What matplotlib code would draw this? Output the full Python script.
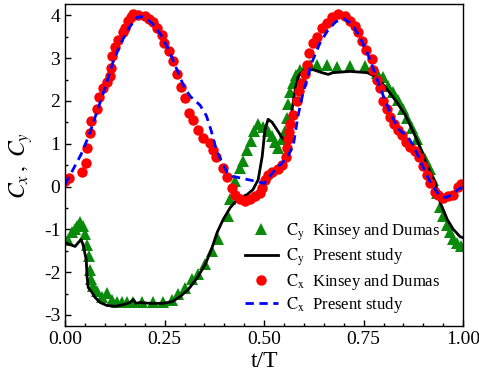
import numpy as np
import matplotlib
matplotlib.use("Agg")
import matplotlib.pyplot as plt
from matplotlib.ticker import MultipleLocator

plt.rcParams['font.family'] = 'Liberation Serif'
plt.rcParams['mathtext.fontset'] = 'stix'
plt.rcParams['axes.unicode_minus'] = False

# C_y, Kinsey and Dumas (experiment)
t_cy_exp = [0.0, 0.008, 0.018, 0.025, 0.03, 0.038, 0.045, 0.05, 0.055, 0.06,
            0.063, 0.065, 0.07, 0.08, 0.093, 0.105, 0.118, 0.13, 0.143, 0.156,
            0.171, 0.193, 0.221, 0.246, 0.269, 0.284, 0.302, 0.319, 0.334, 0.352,
            0.369, 0.384, 0.41, 0.415, 0.427, 0.44, 0.447, 0.457, 0.467, 0.475,
            0.485, 0.497, 0.51, 0.52, 0.528, 0.535, 0.545, 0.553, 0.557, 0.56,
            0.565, 0.572, 0.58, 0.59, 0.603, 0.616, 0.633, 0.658, 0.683, 0.716,
            0.754, 0.784, 0.799, 0.812, 0.824, 0.837, 0.849, 0.859, 0.872, 0.884,
            0.892, 0.905, 0.917, 0.925, 0.935, 0.942, 0.95, 0.96, 0.967, 0.975,
            0.985, 0.995]
cy_exp = [-1.24, -1.24, -1.07, -1.0, -0.93, -0.82, -0.93, -1.12, -1.36, -1.63,
          -1.94, -2.17, -2.33, -2.45, -2.57, -2.48, -2.64, -2.71, -2.69, -2.69,
          -2.71, -2.71, -2.69, -2.69, -2.64, -2.52, -2.36, -2.17, -2.05, -1.8,
          -1.5, -1.22, -0.7, -0.3, 0.12, 0.44, 0.6, 0.85, 1.07, 1.3,
          1.45, 1.4, 1.29, 1.17, 1.03, 0.91, 1.1, 1.29, 1.6, 1.92,
          2.2, 2.42, 2.6, 2.73, 2.78, 2.85, 2.85, 2.85, 2.8, 2.82,
          2.82, 2.66, 2.55, 2.34, 2.2, 2.03, 1.8, 1.6, 1.36, 1.1,
          0.86, 0.65, 0.42, 0.16, -0.14, -0.47, -0.7, -0.9, -1.07, -1.22,
          -1.31, -1.38]

# C_y, present study
t_cy_num = [0.0, 0.013, 0.025, 0.033, 0.04, 0.045, 0.053, 0.055, 0.058, 0.068,
            0.075, 0.088, 0.105, 0.126, 0.146, 0.163, 0.171, 0.178, 0.188, 0.214,
            0.246, 0.269, 0.289, 0.309, 0.332, 0.352, 0.369, 0.382, 0.397, 0.415,
            0.435, 0.457, 0.472, 0.485, 0.495, 0.502, 0.51, 0.52, 0.532, 0.545,
            0.557, 0.565, 0.57, 0.578, 0.585, 0.6, 0.623, 0.645, 0.661, 0.673,
            0.716, 0.759, 0.784, 0.809, 0.834, 0.854, 0.874, 0.892, 0.909, 0.93,
            0.942, 0.96, 0.975, 0.992, 1.0]
cy_num = [-1.31, -1.36, -1.4, -1.31, -1.24, -1.36, -1.71, -2.1, -2.36, -2.48,
          -2.59, -2.71, -2.78, -2.8, -2.76, -2.71, -2.64, -2.73, -2.71, -2.73,
          -2.73, -2.69, -2.57, -2.41, -2.13, -1.82, -1.43, -1.07, -0.77, -0.49,
          -0.28, -0.19, -0.07, 0.16, 0.7, 1.33, 1.57, 1.5, 1.33, 1.14,
          1.03, 1.26, 1.8, 2.27, 2.57, 2.72, 2.73, 2.66, 2.62, 2.66,
          2.69, 2.66, 2.55, 2.27, 1.96, 1.68, 1.29, 0.91, 0.5, 0.09,
          -0.37, -0.77, -1.0, -1.17, -1.2]

# C_x, Kinsey and Dumas (experiment)
t_cx_exp = [0.0, 0.01, 0.043, 0.053, 0.056, 0.063, 0.065, 0.08, 0.085, 0.096,
            0.105, 0.113, 0.115, 0.118, 0.126, 0.134, 0.146, 0.15, 0.158, 0.165,
            0.171, 0.184, 0.2, 0.21, 0.22, 0.23, 0.243, 0.249, 0.26, 0.27,
            0.28, 0.29, 0.3, 0.312, 0.322, 0.334, 0.347, 0.364, 0.372, 0.38,
            0.397, 0.407, 0.42, 0.427, 0.44, 0.452, 0.465, 0.477, 0.49, 0.495,
            0.502, 0.51, 0.52, 0.535, 0.545, 0.555, 0.557, 0.56, 0.562, 0.565,
            0.573, 0.583, 0.587, 0.595, 0.603, 0.608, 0.613, 0.623, 0.633, 0.645,
            0.658, 0.67, 0.686, 0.703, 0.716, 0.729, 0.736, 0.746, 0.756, 0.771,
            0.774, 0.784, 0.79, 0.799, 0.809, 0.817, 0.826, 0.836, 0.847, 0.856,
            0.867, 0.879, 0.89, 0.9, 0.908, 0.917, 0.93, 0.937, 0.95, 0.962,
            0.975, 0.987, 0.995]
cx_exp = [0.14, 0.21, 0.35, 0.56, 0.9, 1.26, 1.54, 1.82, 2.08, 2.29,
          2.45, 2.59, 2.78, 3.04, 3.27, 3.43, 3.6, 3.71, 3.86, 3.95,
          4.02, 4.0, 3.98, 3.92, 3.84, 3.71, 3.55, 3.35, 3.16, 2.93,
          2.64, 2.33, 2.07, 1.72, 1.56, 1.32, 1.13, 1.02, 0.86, 0.7,
          0.43, 0.22, -0.03, -0.21, -0.3, -0.35, -0.3, -0.23, -0.14, -0.03,
          0.16, 0.27, 0.33, 0.4, 0.51, 0.68, 0.91, 1.1, 1.28, 1.45,
          1.68, 1.99, 2.22, 2.43, 2.62, 2.85, 3.13, 3.36, 3.5, 3.71,
          3.83, 3.97, 4.02, 3.98, 3.86, 3.74, 3.6, 3.39, 3.2, 2.97,
          2.73, 2.5, 2.3, 2.0, 1.8, 1.62, 1.47, 1.32, 1.2, 1.05,
          0.93, 0.84, 0.68, 0.47, 0.28, 0.09, -0.12, -0.19, -0.26, -0.23,
          -0.19, 0.0, 0.05]

# C_x, present study
t_cx_num = [0.0, 0.02, 0.04, 0.06, 0.08, 0.1, 0.12, 0.14, 0.16, 0.18,
            0.19, 0.2, 0.22, 0.24, 0.26, 0.28, 0.3, 0.315, 0.327, 0.339,
            0.355, 0.367, 0.38, 0.394, 0.407, 0.42, 0.44, 0.46, 0.48, 0.5,
            0.515, 0.53, 0.545, 0.56, 0.573, 0.585, 0.598, 0.62, 0.64, 0.66,
            0.68, 0.7, 0.72, 0.74, 0.76, 0.78, 0.8, 0.82, 0.84, 0.86,
            0.875, 0.89, 0.905, 0.92, 0.94, 0.955, 0.97, 0.985, 1.0]
cx_num = [0.05, 0.4, 0.75, 1.2, 1.75, 2.3, 2.9, 3.35, 3.7, 3.95,
          3.97, 3.95, 3.8, 3.55, 3.2, 2.75, 2.3, 2.1, 2.0, 1.9,
          1.65, 1.3, 0.85, 0.56, 0.33, 0.24, 0.2, 0.16, 0.12, 0.07,
          0.25, 0.42, 0.55, 0.72, 0.95, 1.65, 2.2, 2.9, 3.35, 3.65,
          3.85, 3.92, 3.8, 3.5, 3.1, 2.6, 2.1, 1.65, 1.32, 1.17,
          0.95, 0.65, 0.33, 0.05, -0.2, -0.26, -0.2, -0.08, 0.0]

fig = plt.figure(figsize=(4.79, 3.80), dpi=100)
ax = fig.add_axes([0.136, 0.142, 0.831, 0.847])

ax.plot(t_cy_exp, cy_exp, '^', color='#0a8a0a', markersize=8.5, markeredgewidth=0,
        label=r'$\mathrm{C_y}$  Kinsey and Dumas')
ax.plot(t_cy_num, cy_num, '-', color='black', linewidth=2.0,
        label=r'$\mathrm{C_y}$  Present study')
ax.plot(t_cx_exp, cx_exp, 'o', color='red', markersize=7.5, markeredgewidth=0,
        label=r'$\mathrm{C_x}$  Kinsey and Dumas')
ax.plot(t_cx_num, cx_num, '--', color='blue', linewidth=2.0, dashes=(3, 2),
        label=r'$\mathrm{C_x}$  Present study')

ax.set_xlim(0, 1)
ax.set_ylim(-3.26, 4.26)
ax.xaxis.set_major_locator(MultipleLocator(0.25))
ax.xaxis.set_minor_locator(MultipleLocator(0.05))
ax.yaxis.set_major_locator(MultipleLocator(1))
ax.yaxis.set_minor_locator(MultipleLocator(0.5))
ax.xaxis.set_major_formatter(plt.FormatStrFormatter('%.2f'))
ax.tick_params(which='both', direction='in', labelsize=14)
ax.tick_params(which='major', length=4.5, width=1)
ax.tick_params(which='minor', length=2.5, width=1)
for s in ax.spines.values():
    s.set_linewidth(1.0)

ax.set_xlabel('t/T', fontsize=17, labelpad=2)
ax.set_ylabel(r'$C_x\,,\ C_y$', fontsize=17, labelpad=6)

ax.legend(loc='lower right', frameon=False, fontsize=12, handlelength=2.0,
          labelspacing=0.22, handletextpad=0.5, borderaxespad=0.25,
          bbox_to_anchor=(0.97, 0.0))

fig.savefig('out.png', dpi=100)
